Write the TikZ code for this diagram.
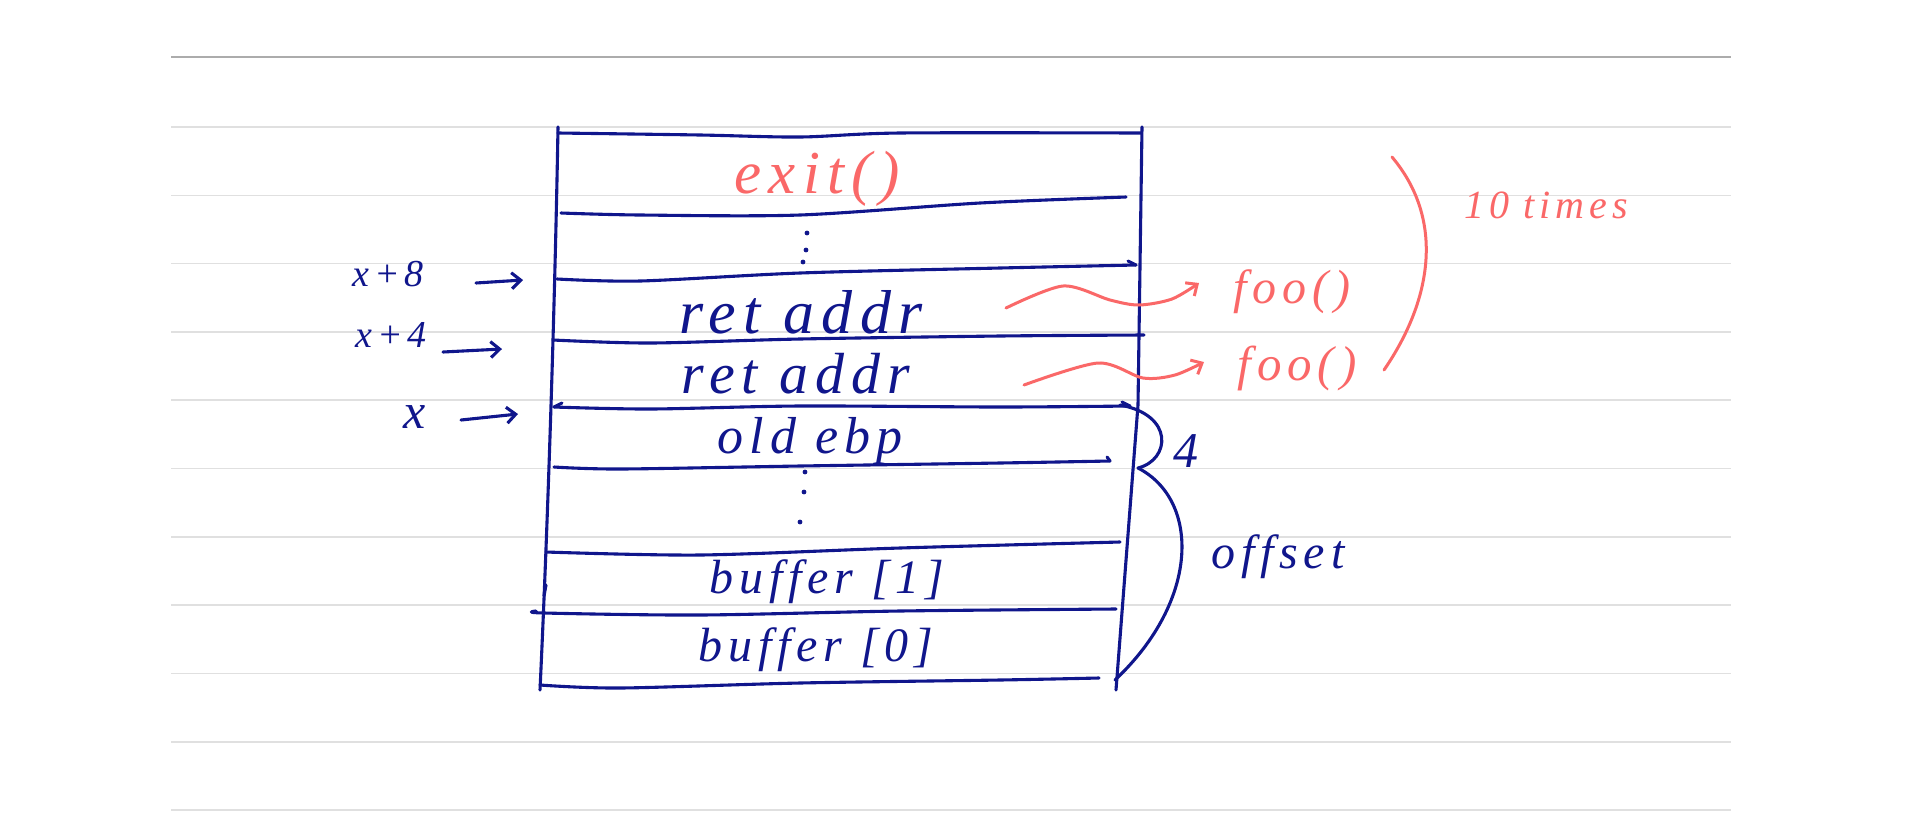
\documentclass[tikz,border=0pt]{standalone}
\usepackage{fontspec}
\usetikzlibrary{arrows.meta}
\newfontfamily\hand[LetterSpace=12]{Liberation Serif}
\definecolor{pen}{RGB}{16,22,140}
\definecolor{redpen}{RGB}{250,104,104}
\definecolor{rule}{RGB}{224,224,224}
\definecolor{ruletop}{RGB}{172,172,172}
\newcommand\hsz[1]{\fontsize{#1}{#1}\selectfont}
\begin{document}
\begin{tikzpicture}[x=1pt,y=-1pt,
  ruled/.style={draw=rule, line width=1.6pt},
  ink/.style={draw=pen, line width=3.1pt, line cap=round, line join=round},
  redink/.style={draw=redpen, line width=3pt, line cap=round, line join=round},
  barb/.style={-{Straight Barb[length=9pt,width=16pt]}},
  hs/.style={font={\hand\itshape\hsz{#1}}},
  hand/.style={inner sep=0pt, text=pen},
  redhand/.style={inner sep=0pt, text=redpen},
]
% page and ruled paper
\fill[white] (0,0) rectangle (1912,815);
\draw[draw=ruletop, line width=1.6pt] (171,57) -- (1731,57);
\foreach \k in {0,...,10} \draw[ruled] (171,{127+68.3*\k}) -- (1731,{127+68.3*\k});

% stack box edges
\coordinate (tl) at (558,127);
\coordinate (bl) at (540,690);
\coordinate (tr) at (1142,127);
\coordinate (mr) at (1138,405);
\coordinate (br) at (1116,690);
\draw[ink] (tl) .. controls (555,300) and (548,520) .. (bl);
\draw[ink] (tr) -- (mr) -- (br);

% slot separators
\draw[ink] plot[smooth] coordinates {(558,133) (700,135) (800,137) (900,133) (1141,133)};
\draw[ink] plot[smooth] coordinates {(561,213) (640,215) (800,215) (980,203) (1126,197)};
\draw[ink] plot[smooth] coordinates {(557,279) (640,281) (800,273) (1000,268) (1136,265)};
\draw[ink] (1136,265) -- (1128,261);
\draw[ink] plot[smooth] coordinates {(553,340) (650,343) (800,339) (1000,336) (1144,335)};
\draw[ink] plot[smooth] coordinates {(554,407) (650,409) (800,406) (1000,407) (1130,406)};
\draw[ink] (554,407) -- (562,403);
\draw[ink] (1130,406) -- (1122,402);
\draw[ink] plot[smooth] coordinates {(554,467) (620,469) (800,466) (1000,463) (1110,461)};
\draw[ink] (1110,461) -- (1107,457);
\draw[ink] plot[smooth] coordinates {(546,552) (700,555) (900,548) (1120,542)};
\draw[ink] plot[smooth] coordinates {(536,611) (544,613) (700,615) (900,611) (1116,609)};
\draw[ink] (546,585) -- (544,596);
\draw[ink] plot[smooth] coordinates {(540,685) (620,688) (800,683) (1000,680) (1099,678)};

% vertical ellipses
\fill[pen] (807,233) circle (2.4);
\fill[pen] (806,250) circle (2.4);
\fill[pen] (803,262) circle (2.4);
\fill[pen] (805,472) circle (2.4);
\fill[pen] (804,492) circle (2.4);
\fill[pen] (800,522) circle (2.4);

% slot contents
\node[redhand, hs=61] (exit) at (817,179) {exit()};
\node[hand, hs=62] (ret1) at (801,312) {ret addr};
\node[hand, hs=58] (ret2) at (796,374) {ret addr};
\node[hand, hs=52] (ebp) at (810,441) {old ebp};
\node[hand, hs=48] (buf1) at (827,582) {buffer [1]};
\node[hand, hs=48] (buf0) at (816,650) {buffer [0]};

% address labels and pointers
\node[hand, hs=38] (x8) at (388,274) {x+8};
\node[hand, hs=38] (x4) at (391,335) {x+4};
\node[hand, hs=50] (x0) at (415,417) {x};
\coordinate (a8s) at (476,283); \coordinate (a8e) at (523,280);
\coordinate (a4s) at (443,352); \coordinate (a4e) at (502,349);
\coordinate (a0s) at (461,420); \coordinate (a0e) at (518,414);
\draw[ink, barb] (a8s) -- (a8e);
\draw[ink, barb] (a4s) -- (a4e);
\draw[ink, barb] (a0s) -- (a0e);

% red annotations
\node[redhand, hs=48] (foo1) at (1292,292) {foo()};
\node[redhand, hs=49] (foo2) at (1297,368) {foo()};
\coordinate (w1s) at (1006,308); \coordinate (w1e) at (1199,283);
\coordinate (w2s) at (1024,385); \coordinate (w2e) at (1204,362);
\draw[redink, barb] plot[smooth] coordinates {(w1s) (1063,286) (1110,300) (1139,305) (1172,299) (w1e)};
\draw[redink, barb] plot[smooth] coordinates {(w2s) (1098,363) (1143,378) (1175,375) (w2e)};
\coordinate (rb1) at (1392,157); \coordinate (rb2) at (1384,370);
\draw[redink] (rb1) .. controls (1445,220) and (1432,300) .. (rb2);
\node[redhand, hs=40] (times) at (1546,205) {10 times};

% size braces
\coordinate (f1) at (1120,405); \coordinate (f2) at (1138,468); \coordinate (f3) at (1115,680);
\draw[ink] (f1) .. controls (1175,415) and (1170,460) .. (f2);
\draw[ink] (f2) .. controls (1200,500) and (1200,600) .. (f3);
\node[hand, hs=50] (four) at (1186,451) {4};
\node[hand, hs=48] (offset) at (1278,557) {offset};
\end{tikzpicture}
\end{document}
